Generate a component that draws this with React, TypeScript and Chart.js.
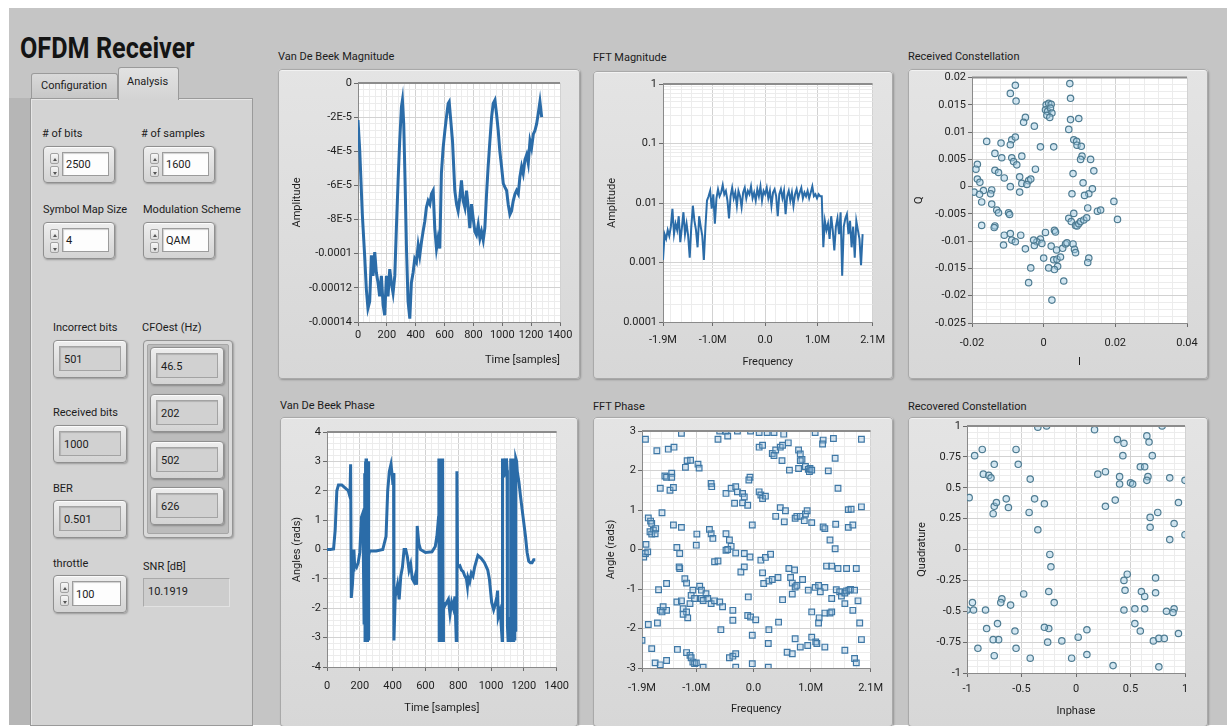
import React, { useEffect, useRef } from 'react';
import { Chart, registerables } from 'chart.js';

Chart.register(...registerables);

const FONT = 'Roboto, "Noto Sans", "Liberation Sans", sans-serif';
Chart.defaults.font.family = FONT;
Chart.defaults.font.size = 11;
Chart.defaults.color = '#1e1e1e';

// ---------------- DATA ----------------
// Van De Beek Magnitude: [sample, amplitude in units of 1E-5]
const vdbMagnitude: [number, number][] = [
  [0, -2.17], [12, -3.95], [30, -7.7], [46, -10.1], [58, -12.1], [69, -13.2], [81, -12.8], [93, -10.1],
  [104, -11.3], [116, -9.9], [127, -11.1], [139, -11.7], [150, -12.5], [162, -11.3], [174, -13.0], [185, -13.6],
  [197, -11.3], [208, -12.5], [220, -10.9], [231, -11.7], [243, -12.3], [255, -11.3], [266, -8.5], [278, -5.7],
  [289, -3.4], [301, -1.4], [308, -1.0], [317, -2.4], [326, -5.7], [336, -9.7], [347, -12.8], [359, -13.8],
  [370, -11.7], [382, -11.1], [393, -10.3], [405, -10.5], [417, -9.5], [428, -10.1], [440, -9.3], [451, -8.7],
  [463, -8.1], [474, -7.3], [486, -6.9], [498, -7.1], [509, -6.5], [521, -6.3], [532, -8.5], [544, -9.7],
  [555, -9.1], [567, -9.7], [578, -5.3], [590, -3.8], [602, -2.8], [613, -2.0], [625, -1.2], [632, -1.1],
  [641, -2.0], [655, -3.4], [671, -6.3], [683, -7.1], [694, -7.5], [706, -6.7], [717, -5.7], [729, -6.9],
  [741, -7.3], [752, -6.3], [764, -7.3], [775, -8.5], [787, -7.1], [798, -7.9], [810, -8.7], [821, -8.9],
  [833, -8.3], [845, -9.1], [856, -8.7], [868, -9.2], [879, -8.5], [891, -6.5], [902, -4.9], [914, -3.4],
  [926, -2.0], [937, -1.2], [949, -1.0], [960, -1.8], [972, -2.8], [983, -4.0], [995, -4.9], [1007, -5.9],
  [1018, -6.1], [1030, -6.3], [1041, -7.1], [1053, -7.7], [1064, -7.5], [1076, -6.9], [1088, -6.5], [1099, -6.3],
  [1111, -6.5], [1122, -5.5], [1134, -4.9], [1145, -5.3], [1157, -4.5], [1169, -4.2], [1180, -4.7], [1192, -3.4],
  [1203, -3.8], [1215, -3.0], [1226, -2.8], [1238, -2.4], [1249, -1.8], [1261, -1.1], [1273, -2.0],
];

// FFT Magnitude: bins from fftStartHz in steps of fftBinHz
const fftStartHz = -1.95e6;
const fftBinHz = 30000;
const fftMagnitude: number[] = [
  0.0011, 0.003, 0.0025, 0.0035, 0.0028, 0.004, 0.008, 0.003, 0.0045, 0.0035,
  0.006, 0.0022, 0.0038, 0.007, 0.003, 0.0045, 0.0028, 0.0012, 0.004, 0.009,
  0.005, 0.0035, 0.0018, 0.006, 0.004, 0.0028, 0.0011, 0.004, 0.011, 0.013,
  0.016, 0.008, 0.014, 0.0045, 0.012, 0.017, 0.013, 0.015, 0.02, 0.014,
  0.016, 0.011, 0.0055, 0.013, 0.018, 0.012, 0.015, 0.009, 0.016, 0.013,
  0.0085, 0.015, 0.018, 0.012, 0.016, 0.014, 0.019, 0.012, 0.015, 0.011,
  0.017, 0.013, 0.019, 0.011, 0.016, 0.014, 0.018, 0.012, 0.016, 0.009,
  0.015, 0.017, 0.013, 0.006, 0.014, 0.017, 0.012, 0.016, 0.0065, 0.013,
  0.016, 0.011, 0.015, 0.009, 0.014, 0.017, 0.012, 0.015, 0.018, 0.012,
  0.015, 0.013, 0.016, 0.012, 0.015, 0.019, 0.013, 0.014, 0.012, 0.014,
  0.013, 0.013, 0.0018, 0.005, 0.0035, 0.0045, 0.0025, 0.006, 0.0035, 0.0016,
  0.004, 0.0055, 0.003, 0.007, 0.0006, 0.004, 0.0055, 0.0065, 0.003, 0.005,
  0.0018, 0.004, 0.0012, 0.005, 0.0035, 0.0025, 0.0009, 0.003,
];

// Received Constellation: [I, Q] in units of 1E-3
const receivedIQ: [number, number][] = [
  [-7.9, 18.6], [-9.3, 17.1], [-7.7, 15.7], [7.3, 18.9], [7.5, 16.2], [0.7, 15.0], [1.4, 15.3], [2.1, 15.1],
  [0.5, 14.1], [1.1, 13.8], [1.9, 14.4], [2.3, 13.5], [0.9, 13.1], [1.7, 12.7], [-5.1, 12.7], [-5.6, 11.8],
  [7.5, 12.3], [9.8, 12.5], [-2.6, 11.1], [7.0, 10.5], [-15.9, 8.3], [-11.9, 8.0], [-8.9, 8.6], [-7.9, 9.1],
  [-9.3, 7.7], [-0.9, 7.3], [2.8, 7.3], [8.4, 8.6], [9.2, 8.3], [9.3, 7.6], [10.5, 7.4], [10.7, 5.6],
  [10.3, 5.0], [13.1, 5.0], [-13.6, 6.1], [-11.7, 5.3], [-8.9, 5.3], [-8.4, 4.6], [-6.1, 5.6], [-7.5, 4.0],
  [-2.3, 3.2], [-18.5, 4.1], [-18.9, 3.2], [-13.6, 3.0], [-12.6, 2.6], [-11.0, 1.6], [-6.7, 1.8], [-6.1, 0.6],
  [-4.2, 1.1], [-3.6, 1.4], [8.2, 2.4], [14.0, 2.9], [-18.5, 1.4], [-17.8, 0.8], [-19.4, -1.0], [-14.5, -0.6],
  [-14.8, -1.3], [-9.3, 0.0], [-6.7, -1.0], [-4.7, 0.4], [7.9, -1.3], [11.0, 0.7], [12.6, -1.3], [11.4, -1.6],
  [13.6, -0.4], [-17.3, -2.8], [-14.5, -3.2], [-13.1, -4.3], [-12.6, -4.8], [-9.8, -4.8], [-9.5, -5.1], [12.3, -3.9],
  [15.0, -4.5], [15.9, -4.3], [19.6, -2.7], [20.6, -6.0], [8.4, -4.9], [7.0, -5.8], [7.7, -6.4], [8.9, -7.1],
  [9.3, -7.2], [9.8, -6.8], [10.3, -6.4], [11.2, -6.1], [12.0, -5.7], [-17.3, -7.1], [-13.6, -7.2], [-13.8, -7.5],
  [-11.0, -8.9], [-11.2, -10.7], [-9.3, -8.6], [-8.9, -9.8], [-7.9, -10.1], [-6.4, -8.9], [0.5, -8.4], [3.0, -8.0],
  [3.3, -8.3], [-0.9, -9.6], [-1.9, -10.1], [-0.5, -10.4], [-2.6, -10.8], [-5.1, -11.4], [2.1, -10.9], [3.6, -11.6],
  [5.3, -11.3], [6.1, -10.5], [6.5, -10.3], [8.2, -10.5], [8.6, -11.5], [8.9, -12.1], [-2.8, -9.8], [0.0, -13.1],
  [1.4, -14.9], [2.8, -13.4], [3.7, -13.3], [4.7, -12.9], [3.9, -14.6], [3.0, -15.2], [12.6, -13.1], [12.3, -13.9],
  [-3.6, -14.9], [-4.2, -17.6], [5.6, -17.3], [2.3, -20.8], [-16.8, -0.7], [-17.9, -1.4],
];

// Van De Beek Phase: [sample, angle rad]
const vdbPhase: [number, number][] = [
  [0, 0.0], [20, 0.0], [40, 0.02], [50, 0.67], [60, 2.0], [70, 2.2], [90, 2.2], [110, 2.1], [130, 2.0], [140, 1.8],
  [144, 2.9], [148, -1.65], [155, -1.2], [160, -0.7], [164, 0.0], [168, -0.5], [180, -0.6], [190, -0.45], [200, -0.1],
  [210, 1.1], [216, 1.2], [220, 0.7], [226, -2.5], [230, 2.6], [232, -3.1], [234, 3.0], [236, -2.8], [238, 3.1],
  [240, -3.0], [242, 2.7], [244, -3.1], [246, 3.0], [248, -2.9], [250, 3.0], [252, -3.1], [254, 2.8], [256, -0.2],
  [260, -0.05], [300, -0.05], [340, 0.0], [360, 0.45], [370, 2.0], [380, 2.66], [390, 2.9], [398, 2.5], [402, 2.2],
  [406, 2.6], [408, -3.1], [416, -1.6], [430, -1.2], [440, -1.7], [450, -0.9], [460, -0.6], [470, 0.0], [480, 0.0],
  [490, -0.25], [500, -0.7], [510, -0.5], [520, -1.0], [530, -1.1], [540, -0.85], [546, -1.2], [550, 0.8], [560, 0.2],
  [570, 0.0], [600, -0.1], [640, -0.08], [660, 0.1], [670, 0.45], [680, 1.1], [682, 3.1], [684, -3.1], [686, 3.1],
  [688, -3.0], [690, 3.1], [692, -3.1], [694, 3.0], [696, -3.1], [698, 3.1], [700, -3.0], [702, 3.1], [704, -3.1],
  [706, 2.9], [708, -3.1], [710, -1.8], [720, -1.9], [740, -1.7], [750, -2.2], [760, -1.8], [770, -2.0], [780, -1.6],
  [788, -3.1], [792, 2.66], [796, -0.6], [810, -0.55], [820, -0.7], [830, -0.75], [840, -0.9], [850, -1.0],
  [856, -1.25], [860, -0.95], [870, -1.1], [880, -0.8], [890, -0.9], [900, -0.6], [920, -0.2], [940, -0.3],
  [960, -0.45], [980, -0.7], [990, -1.0], [1004, -1.8], [1016, -2.05], [1024, -1.9], [1036, -1.6], [1040, -1.4],
  [1044, -2.3], [1054, -2.1], [1060, -2.4], [1068, -3.1], [1070, 3.1], [1074, 2.5], [1078, 3.1], [1082, 2.6],
  [1086, 3.0], [1090, 2.5], [1094, 3.1], [1098, 2.7], [1100, -2.6], [1104, -3.1], [1108, -2.3], [1112, -3.0],
  [1116, -2.5], [1120, 3.1], [1122, -3.1], [1124, 3.0], [1126, -3.1], [1128, 3.1], [1130, -2.9], [1132, 3.1],
  [1134, -3.1], [1136, 3.0], [1138, -3.1], [1140, 3.1], [1142, -3.0], [1144, 3.1], [1146, -3.1], [1148, 3.0],
  [1150, -2.8], [1152, 3.1], [1156, 3.0], [1160, 2.66], [1170, 2.3], [1180, 1.8], [1190, 1.35], [1200, 0.9],
  [1210, 0.45], [1220, -0.1], [1230, -0.4], [1240, -0.45], [1250, -0.45], [1260, -0.35], [1270, -0.35],
];

// FFT Phase: [frequency in MHz, angle rad]
const fftPhase: [number, number][] = [
  [-1.26, 2.94], [-0.59, 3.0], [-0.48, 2.99], [-0.28, 3.0], [-0.05, 3.0], [0.10, 2.96], [0.24, 2.96], [0.36, 2.96],
  [0.53, 2.92], [1.08, 2.96], [-1.89, 2.79], [-1.69, 2.50], [-1.49, 2.54], [-1.39, 2.59], [-0.62, 2.79], [-0.45, 2.87],
  [0.10, 2.59], [0.16, 2.64], [0.33, 2.43], [0.36, 2.38], [0.39, 2.52], [0.47, 2.59], [0.51, 2.64], [0.61, 2.70],
  [0.50, 2.25], [0.79, 2.52], [0.82, 2.42], [0.85, 2.28], [1.22, 2.77], [1.21, 2.67], [1.40, 2.81], [1.89, 2.79],
  [-1.16, 2.25], [-1.10, 2.26], [-0.97, 2.16], [-0.95, 2.06], [-1.19, 2.08], [-1.55, 1.86], [-1.52, 1.83], [-1.43, 1.93],
  [-1.43, 1.83], [-0.74, 1.67], [-0.73, 1.59], [-0.06, 1.83], [-0.08, 1.76], [0.63, 2.01], [0.79, 2.05], [0.82, 2.25],
  [0.91, 2.10], [0.96, 2.03], [0.98, 1.97], [0.99, 2.05], [1.02, 2.01], [1.43, 2.31], [1.31, 1.99],
  [-1.63, 1.55], [-1.46, 1.50], [-1.40, 1.57], [-0.48, 1.42], [-0.39, 1.55], [-0.31, 1.59], [-0.28, 1.46], [-0.19, 1.42],
  [-0.16, 1.33], [-0.33, 1.17], [-0.19, 1.18], [-0.10, 1.12], [0.10, 1.46], [0.13, 1.38], [0.16, 1.29], [0.21, 1.35],
  [1.48, 1.55], [-1.60, 0.93], [0.47, 1.06], [0.56, 0.98], [0.73, 0.79], [0.76, 0.84], [0.82, 0.84], [0.91, 0.90],
  [0.94, 0.98], [0.39, 0.84], [0.54, 0.70], [1.66, 1.01], [1.71, 1.02], [1.89, 1.08], [-1.84, 0.80], [-1.80, 0.72],
  [-1.78, 0.66], [-1.75, 0.49], [-1.81, 0.45], [-1.78, 0.39], [-1.71, 0.53], [-1.72, 0.40], [0.89, 0.73], [1.02, 0.68],
  [1.22, 0.57], [1.25, 0.53], [1.44, 0.64], [1.66, 0.56], [1.74, 0.62], [-1.40, 0.62], [-1.26, 0.56], [-0.99, 0.39],
  [-1.00, 0.11], [-0.74, 0.40], [-0.71, 0.28], [-0.77, 0.51], [-0.48, 0.40], [-0.42, 0.24], [-0.39, 0.08], [-0.48, -0.02],
  [-0.02, 0.62], [1.34, 0.24], [1.43, 0.02], [-1.34, 0.05], [-1.29, -0.10], [-1.88, 0.13], [-1.92, -0.19], [-1.89, -0.10],
  [-1.85, -0.06], [-0.31, -0.09], [-0.16, -0.10], [-0.06, -0.19], [0.13, -0.27], [0.21, -0.20], [0.30, -0.12], [-0.68, -0.31],
  [-0.62, -0.29], [-0.45, 0.0], [-1.29, -0.48], [-0.22, -0.57], [-0.16, -0.44], [0.16, -0.59], [0.18, -0.86], [1.28, -0.42],
  [1.37, -0.42], [1.48, -0.48], [1.63, -0.48], [1.80, -0.48], [0.62, -0.48], [0.72, -0.52], [0.65, -0.71], [-1.52, -0.86],
  [-1.30, -0.44], [-1.20, -0.74], [-1.17, -0.85], [-1.06, -1.03], [-0.94, -0.93], [-0.91, -1.03], [-0.83, -1.12], [-0.91, -1.24],
  [-0.80, -1.24], [-0.74, -1.37], [-1.66, -1.02], [-1.63, -1.54], [-1.52, -1.54], [-1.58, -1.45], [-1.34, -1.33], [-1.26, -1.30],
  [-1.23, -1.50], [-1.17, -1.58], [-1.11, -1.37], [-1.09, -1.16], [-1.03, -1.24], [-0.88, -1.29], [-0.68, -1.30], [-0.59, -1.33],
  [-0.54, -1.45], [-0.36, -1.54], [-0.09, -1.20], [0.27, -0.80], [0.33, -0.76], [0.43, -0.71], [0.68, -0.85], [0.73, -0.95],
  [0.76, -0.91], [0.86, -0.76], [0.96, -1.03], [1.08, -0.96], [1.14, -0.91], [1.17, -1.07], [1.25, -0.96], [1.37, -1.24],
  [1.45, -1.02], [1.51, -1.07], [1.54, -1.18], [1.60, -1.10], [1.63, -1.05], [1.67, -1.03], [1.70, -1.01], [1.77, -1.03],
  [1.83, -1.30], [0.51, -1.27], [0.68, -1.13], [1.60, -1.37], [-1.60, -1.58], [-1.23, -1.64], [-1.15, -1.73], [-0.36, -1.79],
  [-0.10, -1.67], [-0.05, -1.71], [0.04, -1.78], [1.02, -1.58], [1.15, -1.73], [1.14, -1.86], [1.25, -1.61], [1.34, -1.61],
  [1.37, -1.58], [1.74, -1.54], [1.86, -1.86], [-1.84, -1.90], [-1.68, -1.86], [-0.57, -2.03], [0.27, -2.03], [0.44, -1.84],
  [-0.02, -2.17], [-1.95, -2.30], [-1.78, -2.51], [-1.33, -2.53], [-1.17, -2.61], [-1.11, -2.68], [-1.09, -2.74], [-1.06, -2.85],
  [-1.03, -2.89], [-1.00, -2.87], [-1.72, -2.87], [-1.63, -2.92], [-1.52, -2.81], [-0.42, -2.74], [-0.36, -2.70], [-0.31, -2.64],
  [-0.02, -2.89], [0.26, -2.98], [0.26, -2.38], [0.59, -2.60], [0.68, -2.64], [0.73, -2.26], [0.82, -2.47], [0.95, -2.43],
  [1.02, -2.22], [1.09, -2.34], [1.11, -2.38], [1.25, -2.47], [1.60, -2.55], [1.77, -2.76], [1.80, -2.87], [1.89, -2.28],
  [-0.88, -2.98], [-0.31, -2.98],
];

// Recovered Constellation: [Inphase, Quadrature]
const recoveredIQ: [number, number][] = [
  [-0.98, 0.42], [-0.93, 0.76], [-0.86, 0.81], [-0.85, 0.61], [-0.80, 0.60], [-0.78, 0.58], [-0.75, 0.69], [-0.76, 0.29],
  [-0.75, 0.35], [-0.73, 0.38], [-0.64, 0.41], [-0.62, 0.34], [-0.55, 0.81], [-0.53, 0.69], [-0.43, 0.30], [-0.42, 0.57],
  [-0.38, 0.41], [-0.35, 0.16], [-0.29, 0.37], [-0.35, 0.99], [0.17, 0.97], [0.20, 0.61], [0.27, 0.63], [0.27, 0.35],
  [0.36, 0.40], [0.38, 0.89], [0.44, 0.86], [0.43, 0.76], [0.40, 0.59], [0.40, 0.53], [0.50, 0.54], [0.52, 0.53],
  [0.59, 0.67], [0.63, 0.67], [0.65, 0.92], [0.67, 0.87], [0.66, 0.59], [0.65, 0.56], [0.70, 0.76], [0.68, 0.26],
  [0.68, 0.18], [0.75, 0.30], [0.86, 0.58], [0.86, 0.08], [0.90, 0.21], [0.94, 0.38], [1.0, 0.56], [1.0, 0.12],
  [-0.24, -0.04], [-0.23, -0.14], [-0.25, -0.34], [-0.20, -0.43], [0.44, -0.25], [0.47, -0.20], [0.45, -0.33], [0.44, -0.49],
  [0.54, -0.48], [0.54, -0.60], [0.59, -0.66], [0.60, -0.34], [0.63, -0.38], [0.63, -0.48], [0.73, -0.23], [0.73, -0.35],
  [0.71, -0.74], [0.76, -0.72], [0.81, -0.72], [0.83, -0.50], [0.90, -0.48], [0.89, -0.51], [0.94, -0.68], [0.76, -0.95],
  [0.34, -0.94], [0.02, -0.71], [0.10, -0.65], [0.10, -0.85], [-0.04, -0.88], [-0.13, -0.74], [-0.25, -0.64], [-0.26, -0.75],
  [-0.29, -0.63], [-0.48, -0.36], [-0.42, -0.88], [-0.56, -0.66], [-0.55, -0.80], [-0.60, -0.45], [-0.68, -0.40], [-0.69, -0.43],
  [-0.72, -0.60], [-0.71, -0.73], [-0.76, -0.73], [-0.75, -0.86], [-0.82, -0.64], [-0.83, -0.49], [-0.90, -0.80], [-0.95, -0.43],
  [-0.94, -0.49], [-1.0, -0.49], [-0.27, 1.0], [0.79, 1.0],
];

// Axis ticks and labels
const sampleTicks = [0, 200, 400, 600, 800, 1000, 1200, 1400];
const sampleLabels = ['0', '200', '400', '600', '800', '1000', '1200', '1400'];
const vdbMagTicks = [-14e-5, -12e-5, -10e-5, -8e-5, -6e-5, -4e-5, -2e-5, 0];
const vdbMagLabels = ['-0.00014', '-0.00012', '-0.0001', '-8E-5', '-6E-5', '-4E-5', '-2E-5', '0'];
const freqTicks = [-1.95e6, -1e6, 0, 1e6, 2.05e6];
const freqLabels = ['-1.9M', '-1.0M', '0.0', '1.0M', '2.1M'];
const fftMagTicks = [1e-4, 1e-3, 1e-2, 1e-1, 1];
const fftMagLabels = ['0.0001', '0.001', '0.01', '0.1', '1'];
const rxITicks = [-0.02, 0, 0.02, 0.04];
const rxILabels = ['-0.02', '0', '0.02', '0.04'];
const rxQTicks = [-0.025, -0.02, -0.015, -0.01, -0.005, 0, 0.005, 0.01, 0.015, 0.02];
const rxQLabels = ['-0.025', '-0.02', '-0.015', '-0.01', '-0.005', '0', '0.005', '0.01', '0.015', '0.02'];
const phaseTicks = [-4, -3, -2, -1, 0, 1, 2, 3, 4];
const phaseLabels = ['-4', '-3', '-2', '-1', '0', '1', '2', '3', '4'];
const fftPhaseTicks = [-3, -2, -1, 0, 1, 2, 3];
const fftPhaseLabels = ['-3', '-2', '-1', '0', '1', '2', '3'];
const recITicks = [-1, -0.5, 0, 0.5, 1];
const recILabels = ['-1', '-0.5', '0', '0.5', '1'];
const recQTicks = [-1, -0.75, -0.5, -0.25, 0, 0.25, 0.5, 0.75, 1];
const recQLabels = ['-1', '-0.75', '-0.5', '-0.25', '0', '0.25', '0.5', '0.75', '1'];

// ---------------- helpers ----------------
const MAJOR = '#d2d2d2';
const MINOR = '#ececec';
const LINE = '#2b6ca8';

function minorsBetween(majors: number[], sub: number): number[] {
  const out: number[] = [];
  for (let i = 0; i < majors.length - 1; i++) {
    const a = majors[i], b = majors[i + 1];
    for (let k = 1; k < sub; k++) out.push(a + ((b - a) * k) / sub);
  }
  return out;
}
function minorsGrid(majors: number[], step: number, lo: number, hi: number): number[] {
  const out: number[] = [];
  for (let v = Math.ceil(lo / step) * step; v < hi; v += step) {
    if (majors.every((m) => Math.abs(m - v) > step * 0.3)) out.push(v);
  }
  return out;
}
function minorsLog(lo: number, hi: number): number[] {
  const out: number[] = [];
  for (let d = lo; d < hi; d *= 10) for (let k = 2; k <= 9; k++) out.push(d * k);
  return out;
}

type AxOpt = {
  pos: 'left' | 'bottom';
  type?: 'linear' | 'logarithmic';
  min: number; max: number;
  majors: number[]; labels: string[]; minors: number[];
  size: number; title: string; titlePad: number; tickPad: number;
  align?: 'start' | 'center' | 'end';
};
function axis(o: AxOpt): any {
  return {
    type: o.type ?? 'linear',
    position: o.pos,
    min: o.min,
    max: o.max,
    afterBuildTicks: (s: any) => {
      const t = [
        ...o.majors.map((v, i) => ({ value: v, lbl: o.labels[i], minor: false })),
        ...o.minors.map((v) => ({ value: v, lbl: '', minor: true })),
      ];
      t.sort((a, b) => a.value - b.value);
      s.ticks = t;
    },
    afterFit: (s: any) => {
      if (o.pos === 'left') s.width = o.size; else s.height = o.size;
    },
    ticks: {
      autoSkip: false, maxRotation: 0, minRotation: 0, padding: o.tickPad,
      color: '#1e1e1e', font: { size: 11 },
      callback: (_v: any, i: number, ticks: any[]) => (ticks[i] && ticks[i].lbl) || '',
    },
    grid: {
      color: (c: any) => (c.tick && c.tick.minor ? MINOR : MAJOR),
      tickColor: (c: any) => (c.tick && c.tick.minor ? 'rgba(0,0,0,0)' : '#6a6a6a'),
      tickLength: 4, drawTicks: true, lineWidth: 1,
    },
    border: { display: true, color: '#8a8a8a', width: 1 },
    title: {
      display: true, text: o.title, color: '#1e1e1e', font: { size: 11 },
      align: o.align ?? 'center',
      padding: o.pos === 'left' ? { top: o.titlePad, bottom: 0 } : { top: 0, bottom: o.titlePad },
    },
  };
}

const plotFrame = {
  id: 'plotFrame',
  beforeDraw(chart: any) {
    const { ctx, chartArea: a } = chart;
    ctx.save();
    ctx.fillStyle = '#ffffff';
    ctx.fillRect(a.left, a.top, a.right - a.left, a.bottom - a.top);
    ctx.restore();
  },
  afterDraw(chart: any) {
    const { ctx, chartArea: a } = chart;
    ctx.save();
    ctx.strokeStyle = '#8c8c8c';
    ctx.lineWidth = 2;
    ctx.beginPath();
    ctx.moveTo(a.left, a.top);
    ctx.lineTo(a.right, a.top);
    ctx.stroke();
    ctx.restore();
  },
};

type Rect = { x: number; y: number; w: number; h: number };
type Plot = { l: number; t: number; r: number; b: number };

function baseOptions(panel: Rect, plot: Plot, x: any, y: any): any {
  return {
    animation: false,
    responsive: false,
    events: [],
    layout: { padding: { left: 0, top: plot.t - panel.y, right: panel.x + panel.w - plot.r, bottom: 0 } },
    plugins: { legend: { display: false }, tooltip: { enabled: false } },
    scales: { x, y },
  };
}

function lineDataset(data: { x: number; y: number }[], width: number): any {
  return { data, showLine: true, borderColor: LINE, borderWidth: width, pointRadius: 0, tension: 0, clip: 0 };
}
function pointDataset(data: { x: number; y: number }[], style: string, radius: number, border: string, fill: string): any {
  return {
    data, showLine: false, pointStyle: style, pointRadius: radius, pointBorderWidth: 1.2,
    pointBorderColor: border, pointBackgroundColor: fill, borderColor: border, backgroundColor: fill, clip: 0,
  };
}

// ---------------- panel specs ----------------
const P_A: Rect = { x: 278, y: 69, w: 302, h: 310 };
const Q_A: Plot = { l: 358, t: 83, r: 560, b: 322 };
const P_B: Rect = { x: 593, y: 71, w: 300, h: 308 };
const Q_B: Plot = { l: 663, t: 84, r: 875, b: 322 };
const P_C: Rect = { x: 908, y: 69, w: 300, h: 310 };
const Q_C: Plot = { l: 972, t: 76, r: 1187, b: 323 };
const P_D: Rect = { x: 280, y: 417, w: 298, h: 310 };
const Q_D: Plot = { l: 327, t: 432, r: 560, b: 667 };
const P_E: Rect = { x: 593, y: 417, w: 300, h: 310 };
const Q_E: Plot = { l: 642, t: 431, r: 873, b: 668 };
const P_F: Rect = { x: 908, y: 417, w: 300, h: 310 };
const Q_F: Plot = { l: 967, t: 426, r: 1185, b: 673 };

const yW = (p: Rect, q: Plot) => q.l - p.x;
const xH = (p: Rect, q: Plot) => p.y + p.h - q.b;

function cfgA(): any {
  const x = axis({ pos: 'bottom', min: 0, max: 1400, majors: sampleTicks, labels: sampleLabels, minors: minorsBetween(sampleTicks, 5), size: xH(P_A, Q_A), title: 'Time [samples]', titlePad: 12, tickPad: 3, align: 'end' });
  const y = axis({ pos: 'left', min: -14e-5, max: 0, majors: vdbMagTicks, labels: vdbMagLabels, minors: minorsBetween(vdbMagTicks, 5), size: yW(P_A, Q_A), title: 'Amplitude', titlePad: 13, tickPad: 2 });
  return {
    type: 'scatter',
    data: { datasets: [lineDataset(vdbMagnitude.map(([s, v]) => ({ x: s, y: v * 1e-5 })), 3)] },
    options: baseOptions(P_A, Q_A, x, y),
    plugins: [plotFrame],
  };
}
function cfgB(): any {
  const x = axis({ pos: 'bottom', min: -1.95e6, max: 2.05e6, majors: freqTicks, labels: freqLabels, minors: minorsGrid(freqTicks, 2e5, -1.95e6, 2.05e6), size: xH(P_B, Q_B), title: 'Frequency', titlePad: 10, tickPad: 8 });
  const y = axis({ pos: 'left', type: 'logarithmic', min: 1e-4, max: 1, majors: fftMagTicks, labels: fftMagLabels, minors: minorsLog(1e-4, 1), size: yW(P_B, Q_B), title: 'Amplitude', titlePad: 13, tickPad: 2 });
  return {
    type: 'scatter',
    data: { datasets: [lineDataset(fftMagnitude.map((v, i) => ({ x: fftStartHz + i * fftBinHz, y: v })), 2)] },
    options: baseOptions(P_B, Q_B, x, y),
    plugins: [plotFrame],
  };
}
function cfgC(): any {
  const x = axis({ pos: 'bottom', min: -0.02, max: 0.04, majors: rxITicks, labels: rxILabels, minors: minorsBetween(rxITicks, 5), size: xH(P_C, Q_C), title: 'I', titlePad: 10, tickPad: 10 });
  const y = axis({ pos: 'left', min: -0.025, max: 0.02, majors: rxQTicks, labels: rxQLabels, minors: minorsBetween(rxQTicks, 4), size: yW(P_C, Q_C), title: 'Q', titlePad: 5, tickPad: 2 });
  return {
    type: 'scatter',
    data: { datasets: [pointDataset(receivedIQ.map(([i, q]) => ({ x: i * 1e-3, y: q * 1e-3 })), 'circle', 3.2, '#4f7c92', 'rgba(160,205,228,0.45)')] },
    options: baseOptions(P_C, Q_C, x, y),
    plugins: [plotFrame],
  };
}
function cfgD(): any {
  const x = axis({ pos: 'bottom', min: 0, max: 1400, majors: sampleTicks, labels: sampleLabels, minors: minorsBetween(sampleTicks, 5), size: xH(P_D, Q_D), title: 'Time [samples]', titlePad: 12, tickPad: 9 });
  const y = axis({ pos: 'left', min: -4, max: 4, majors: phaseTicks, labels: phaseLabels, minors: minorsBetween(phaseTicks, 5), size: yW(P_D, Q_D), title: 'Angles (rads)', titlePad: 11, tickPad: 2 });
  return {
    type: 'scatter',
    data: { datasets: [lineDataset(vdbPhase.map(([s, v]) => ({ x: s, y: v })), 3)] },
    options: baseOptions(P_D, Q_D, x, y),
    plugins: [plotFrame],
  };
}
function cfgE(): any {
  const x = axis({ pos: 'bottom', min: -1.95e6, max: 2.05e6, majors: freqTicks, labels: freqLabels, minors: minorsGrid(freqTicks, 2e5, -1.95e6, 2.05e6), size: xH(P_E, Q_E), title: 'Frequency', titlePad: 11, tickPad: 10 });
  const y = axis({ pos: 'left', min: -3, max: 3, majors: fftPhaseTicks, labels: fftPhaseLabels, minors: minorsBetween(fftPhaseTicks, 5), size: yW(P_E, Q_E), title: 'Angle (rads)', titlePad: 12, tickPad: 2 });
  return {
    type: 'scatter',
    data: { datasets: [pointDataset(fftPhase.map(([f, a]) => ({ x: f * 1e6, y: a })), 'rect', 4, '#3f78a6', 'rgba(150,190,222,0.35)')] },
    options: baseOptions(P_E, Q_E, x, y),
    plugins: [plotFrame],
  };
}
function cfgF(): any {
  const x = axis({ pos: 'bottom', min: -1, max: 1, majors: recITicks, labels: recILabels, minors: minorsBetween(recITicks, 5), size: xH(P_F, Q_F), title: 'Inphase', titlePad: 9, tickPad: 6 });
  const y = axis({ pos: 'left', min: -1, max: 1, majors: recQTicks, labels: recQLabels, minors: minorsBetween(recQTicks, 5), size: yW(P_F, Q_F), title: 'Quadrature', titlePad: 8, tickPad: 2 });
  return {
    type: 'scatter',
    data: { datasets: [pointDataset(recoveredIQ.map(([i, q]) => ({ x: i, y: q })), 'circle', 3.2, '#4f7c92', 'rgba(160,205,228,0.45)')] },
    options: baseOptions(P_F, Q_F, x, y),
    plugins: [plotFrame],
  };
}

// ---------------- UI pieces ----------------
const txtBase: React.CSSProperties = {
  position: 'absolute', fontSize: 11, lineHeight: '13px', color: '#1c1c1c', whiteSpace: 'nowrap',
};

function Label({ x, y, children }: { x: number; y: number; children: React.ReactNode }) {
  return <div style={{ ...txtBase, left: x, top: y }}>{children}</div>;
}

const frame: React.CSSProperties = {
  position: 'absolute', boxSizing: 'border-box', borderRadius: 4,
  background: 'linear-gradient(#eeeeee, #d3d3d3)', border: '1px solid #8f8f8f',
  boxShadow: '1px 1px 2px rgba(0,0,0,0.28), inset 0 1px 0 #fbfbfb',
};

function Arrows({ h }: { h: number }) {
  const half = Math.floor((h - 2) / 2);
  const tri = (up: boolean): React.CSSProperties => ({
    position: 'absolute', left: 2, top: up ? half / 2 - 2 : half / 2 - 1, width: 0, height: 0,
    borderLeft: '2.5px solid transparent', borderRight: '2.5px solid transparent',
    ...(up ? { borderBottom: '3px solid #555' } : { borderTop: '3px solid #555' }),
  });
  const cell: React.CSSProperties = {
    position: 'absolute', left: 0, width: 9, height: half, boxSizing: 'border-box',
    background: 'linear-gradient(#f7f7f7,#dcdcdc)', border: '1px solid #a2a2a2', borderRadius: 2,
  };
  return (
    <>
      <div style={{ ...cell, top: 0 }}><div style={tri(true)} /></div>
      <div style={{ ...cell, top: half + 2 }}><div style={tri(false)} /></div>
    </>
  );
}

function NumCtl({ x, y, w, h, value }: { x: number; y: number; w: number; h: number; value: string }) {
  return (
    <div style={{ ...frame, left: x, top: y, width: w, height: h }}>
      <div style={{ position: 'absolute', left: 6, top: 6, width: 9, height: h - 13 }}>
        <Arrows h={h - 13} />
      </div>
      <div style={{
        position: 'absolute', left: 18, top: 5, right: 5, bottom: 6, boxSizing: 'border-box',
        background: '#fdfdfd', border: '1px solid #9c9c9c', boxShadow: 'inset 1px 1px 1px rgba(0,0,0,0.18)',
        fontSize: 11, lineHeight: `${h - 13}px`, paddingLeft: 3, color: '#1c1c1c',
      }}>{value}</div>
    </div>
  );
}

function Ind({ x, y, w, h, value }: { x: number; y: number; w: number; h: number; value: string }) {
  return (
    <div style={{ ...frame, left: x, top: y, width: w, height: h }}>
      <div style={{
        position: 'absolute', left: 5, top: 5, right: 5, bottom: 6, boxSizing: 'border-box',
        background: '#d1d1d1', border: '1px solid #a3a3a3', boxShadow: 'inset 1px 1px 1px rgba(0,0,0,0.15)',
        fontSize: 11, lineHeight: `${h - 13}px`, paddingLeft: 4, color: '#1c1c1c',
      }}>{value}</div>
    </div>
  );
}

function ChartPanel({ panel, title, titleY, build }: { panel: Rect; title: string; titleY: number; build: () => any }) {
  const ref = useRef<HTMLCanvasElement>(null);
  useEffect(() => {
    if (!ref.current) return;
    const c = new Chart(ref.current, build());
    return () => c.destroy();
  }, []);
  return (
    <>
      <Label x={panel.x} y={titleY}>{title}</Label>
      <div style={{
        position: 'absolute', left: panel.x, top: panel.y, width: panel.w, height: panel.h, borderRadius: 4,
        background: 'linear-gradient(#e4e4e4, #d7d7d7)',
        boxShadow: 'inset 0 0 0 1px #a9a9a9, inset 0 2px 0 #f2f2f2, 1px 1px 2px rgba(0,0,0,0.25)',
      }}>
        <canvas ref={ref} width={panel.w} height={panel.h} style={{ position: 'absolute', left: 0, top: 0 }} />
      </div>
    </>
  );
}

export default function App() {
  return (
    <div style={{ position: 'fixed', inset: 0, background: '#ffffff', overflow: 'hidden', fontFamily: FONT }}>
      {/* main gray area */}
      <div style={{ position: 'absolute', left: 9, top: 8, right: 0, bottom: 1, background: '#c5c5c5' }} />
      {/* left dark band */}
      <div style={{ position: 'absolute', left: 9, top: 98, width: 21, bottom: 1, background: '#b6b6b6', borderRight: '1px solid #a4a4a4' }} />

      {/* Title */}
      <div style={{
        position: 'absolute', left: 20, top: 33, fontSize: 30, lineHeight: '30px', fontWeight: 700,
        color: '#141414', whiteSpace: 'nowrap', transform: 'scaleX(0.84)', transformOrigin: 'left top',
      }}>OFDM Receiver</div>

      {/* Tabs */}
      <div style={{
        position: 'absolute', left: 31, top: 73, width: 87, height: 26, boxSizing: 'border-box',
        background: 'linear-gradient(#d9d9d9,#c6c6c6)', border: '1px solid #9a9a9a', borderBottom: 'none',
        borderRadius: '3px 3px 0 0',
      }} />
      <Label x={41} y={79}>Configuration</Label>
      <div style={{
        position: 'absolute', left: 30, top: 98, width: 223, bottom: 0, boxSizing: 'border-box',
        background: '#d3d3d3', border: '1px solid #9a9a9a', boxShadow: 'inset 1px 1px 0 #e6e6e6',
      }} />
      <div style={{
        position: 'absolute', left: 118, top: 67, width: 61, height: 33, boxSizing: 'border-box',
        background: 'linear-gradient(#e2e2e2,#d3d3d3)', border: '1px solid #9a9a9a', borderBottom: 'none',
        borderRadius: '3px 3px 0 0',
      }} />
      <Label x={127} y={75}>Analysis</Label>

      {/* Controls */}
      <Label x={42} y={127}># of bits</Label>
      <Label x={141} y={127}># of samples</Label>
      <NumCtl x={43} y={146} w={72} h={37} value="2500" />
      <NumCtl x={143} y={146} w={72} h={37} value="1600" />

      <Label x={43} y={203}>Symbol Map Size</Label>
      <Label x={143} y={203}>Modulation Scheme</Label>
      <NumCtl x={43} y={222} w={72} h={37} value="4" />
      <NumCtl x={143} y={222} w={72} h={37} value="QAM" />

      <Label x={53} y={321}>Incorrect bits</Label>
      <Label x={142} y={321}>CFOest (Hz)</Label>
      <Ind x={53} y={340} w={74} h={38} value="501" />

      <div style={{
        position: 'absolute', left: 143, top: 340, width: 90, height: 198, boxSizing: 'border-box', borderRadius: 4,
        background: '#dadada', border: '1px solid #949494', boxShadow: '1px 1px 2px rgba(0,0,0,0.25)',
      }}>
        <div style={{ position: 'absolute', left: 3, top: 3, right: 3, bottom: 3, background: '#bcbcbc', border: '1px solid #a6a6a6', borderRadius: 2 }} />
      </div>
      <Ind x={150} y={347} w={74} h={38} value="46.5" />
      <Ind x={150} y={394} w={74} h={38} value="202" />
      <Ind x={150} y={441} w={74} h={38} value="502" />
      <Ind x={150} y={487} w={74} h={38} value="626" />

      <Label x={53} y={406}>Received bits</Label>
      <Ind x={53} y={425} w={74} h={38} value="1000" />
      <Label x={53} y={482}>BER</Label>
      <Ind x={53} y={500} w={74} h={38} value="0.501" />

      <Label x={53} y={557}>throttle</Label>
      <NumCtl x={53} y={575} w={74} h={38} value="100" />
      <Label x={143} y={560}>SNR [dB]</Label>
      <div style={{
        position: 'absolute', left: 143, top: 578, width: 87, height: 29, boxSizing: 'border-box',
        background: '#cdcdcd', borderTop: '1px solid #a9a9a9', borderLeft: '1px solid #a9a9a9',
        borderBottom: '1px solid #e2e2e2', borderRight: '1px solid #e2e2e2',
        fontSize: 11, lineHeight: '26px', paddingLeft: 4, color: '#1c1c1c',
      }}>10.1919</div>

      {/* Charts */}
      <ChartPanel panel={P_A} title="Van De Beek Magnitude" titleY={50} build={cfgA} />
      <ChartPanel panel={P_B} title="FFT Magnitude" titleY={51} build={cfgB} />
      <ChartPanel panel={P_C} title="Received Constellation" titleY={50} build={cfgC} />
      <ChartPanel panel={P_D} title="Van De Beek Phase" titleY={399} build={cfgD} />
      <ChartPanel panel={P_E} title="FFT Phase" titleY={400} build={cfgE} />
      <ChartPanel panel={P_F} title="Recovered Constellation" titleY={400} build={cfgF} />
    </div>
  );
}
